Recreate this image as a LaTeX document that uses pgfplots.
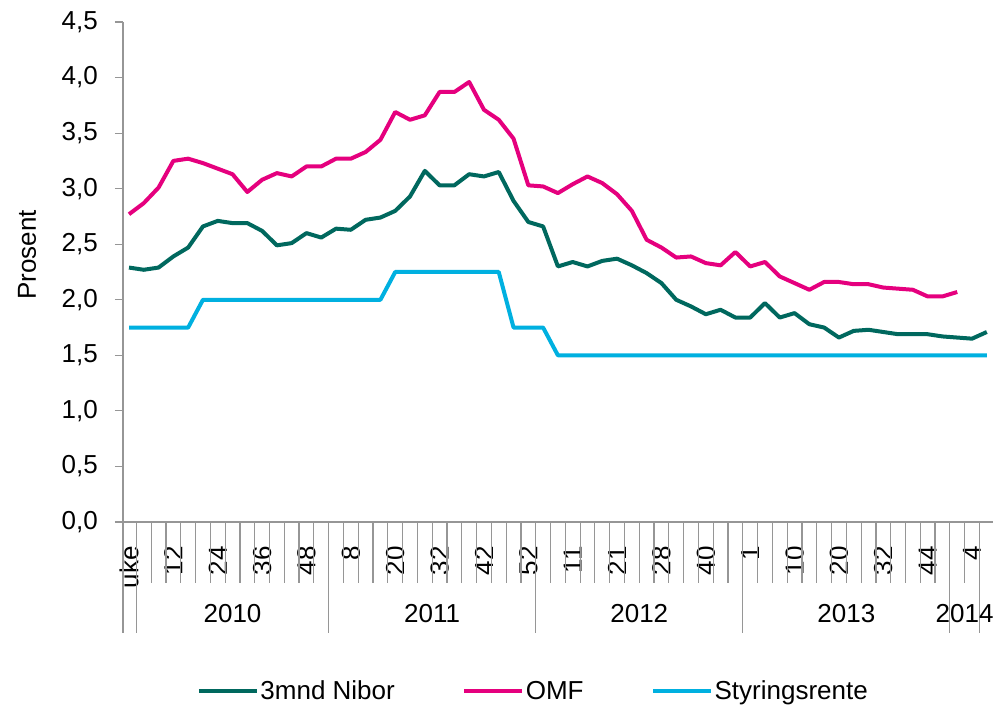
\documentclass[border=0pt]{standalone}
\usepackage{pgfplots}
\pgfplotsset{compat=1.18}
\usepackage{pgfplotstable}
\usepackage{fontspec}
\setmainfont{Liberation Sans}
\definecolor{nibor}{RGB}{0,104,94}
\definecolor{omf}{RGB}{229,0,126}
\definecolor{styr}{RGB}{0,176,224}
\definecolor{axgray}{RGB}{150,150,150}
\newcommand\fz{\fontsize{26}{31}\selectfont}

\pgfplotstableread{
i v
0 2.29
1 2.27
2 2.29
3 2.39
4 2.47
5 2.66
6 2.71
7 2.69
8 2.69
9 2.62
10 2.49
11 2.51
12 2.60
13 2.56
14 2.64
15 2.63
16 2.72
17 2.74
18 2.80
19 2.93
20 3.16
21 3.03
22 3.03
23 3.13
24 3.11
25 3.15
26 2.89
27 2.70
28 2.66
29 2.30
30 2.34
31 2.30
32 2.35
33 2.37
34 2.31
35 2.24
36 2.15
37 2.00
38 1.94
39 1.87
40 1.91
41 1.84
42 1.84
43 1.97
44 1.84
45 1.88
46 1.78
47 1.75
48 1.66
49 1.72
50 1.73
51 1.71
52 1.69
53 1.69
54 1.69
55 1.67
56 1.66
57 1.65
58 1.71
}\nibortable

\pgfplotstableread{
i v
0 2.77
1 2.87
2 3.01
3 3.25
4 3.27
5 3.23
6 3.18
7 3.13
8 2.97
9 3.08
10 3.14
11 3.11
12 3.20
13 3.20
14 3.27
15 3.27
16 3.33
17 3.44
18 3.69
19 3.62
20 3.66
21 3.87
22 3.87
23 3.96
24 3.71
25 3.62
26 3.45
27 3.03
28 3.02
29 2.96
30 3.04
31 3.11
32 3.05
33 2.95
34 2.80
35 2.54
36 2.47
37 2.38
38 2.39
39 2.33
40 2.31
41 2.43
42 2.30
43 2.34
44 2.21
45 2.15
46 2.09
47 2.16
48 2.16
49 2.14
50 2.14
51 2.11
52 2.10
53 2.09
54 2.03
55 2.03
56 2.07
}\omftable

\pgfplotstableread{
i v
0 1.75
1 1.75
2 1.75
3 1.75
4 1.75
5 2.00
6 2.00
7 2.00
8 2.00
9 2.00
10 2.00
11 2.00
12 2.00
13 2.00
14 2.00
15 2.00
16 2.00
17 2.00
18 2.25
19 2.25
20 2.25
21 2.25
22 2.25
23 2.25
24 2.25
25 2.25
26 1.75
27 1.75
28 1.75
29 1.50
30 1.50
31 1.50
32 1.50
33 1.50
34 1.50
35 1.50
36 1.50
37 1.50
38 1.50
39 1.50
40 1.50
41 1.50
42 1.50
43 1.50
44 1.50
45 1.50
46 1.50
47 1.50
48 1.50
49 1.50
50 1.50
51 1.50
52 1.50
53 1.50
54 1.50
55 1.50
56 1.50
57 1.50
58 1.50
}\styrtable

\begin{document}
\begin{tikzpicture}
\begin{axis}[
  scale only axis,
  width=870pt, height=500pt,
  xmin=-0.406, xmax=58.418,
  ymin=0, ymax=4.5,
  axis x line=bottom, axis y line=left,
  axis line style={axgray, line width=1.2pt, -},
  clip=false,
  xtick={0,3,6,9,12,15,18,21,24,27,30,33,36,39,42,45,48,51,54,57},
  xticklabels={uke,12,24,36,48,8,20,32,42,52,11,21,28,40,1,10,20,32,44,4},
  xtick style={draw=none},
  xticklabel style={rotate=90, anchor=east, inner sep=0pt, font=\fz},
  xticklabel shift=16pt,
  ytick={0,0.5,1,1.5,2,2.5,3,3.5,4,4.5},
  ytick style={axgray, line width=1.2pt},
  tick align=outside,
  major tick length=8pt,
  yticklabel style={anchor=east, inner sep=0pt, font=\fz,
    /pgf/number format/.cd, use comma, fixed, fixed zerofill, precision=1, assume math mode=true},
  yticklabel shift=17pt,
  ylabel={Prosent},
  every axis y label/.style={at={(axis description cs:-0.1103,0.534)}, rotate=90, anchor=center, font=\fz},
  legend columns=3,
  legend style={at={(axis description cs:0.085,-0.338)}, anchor=west, draw=none, fill=none,
    font=\fz, inner sep=0pt, outer sep=0pt, nodes={inner sep=1.5pt},
    /tikz/every even column/.append style={column sep=66pt}},
  legend image code/.code={\draw[#1, line width=4pt] (0pt,0pt) -- (58pt,0pt);},
]
\addplot[nibor, line width=4pt, line join=round] table[x=i,y=v] {\nibortable};
\addlegendentry{3mnd Nibor}
\addplot[omf, line width=4pt, line join=round] table[x=i,y=v] {\omftable};
\addlegendentry{OMF}
\addplot[styr, line width=4pt, line join=round] table[x=i,y=v] {\styrtable};
\addlegendentry{Styringsrente}
\pgfplotsinvokeforeach{0.5,1.5,...,57.5}{\draw[axgray, line width=1.2pt] (axis cs:#1,0) -- ([yshift=-61pt]axis cs:#1,0);}
\pgfplotsinvokeforeach{-0.406,0.5,13.5,27.5,41.5,55.5,57.5}{\draw[axgray, line width=1.2pt] (axis cs:#1,0) -- ([yshift=-111pt]axis cs:#1,0);}
\node[font=\fz, yshift=-92pt] at (axis cs:7,0) {2010};
\node[font=\fz, yshift=-92pt] at (axis cs:20.5,0) {2011};
\node[font=\fz, yshift=-92pt] at (axis cs:34.5,0) {2012};
\node[font=\fz, yshift=-92pt] at (axis cs:48.5,0) {2013};
\node[font=\fz, yshift=-92pt] at (axis cs:56.5,0) {2014};
\end{axis}
\pgfresetboundingbox
\path[use as bounding box] ([shift={(-123pt,-184pt)}]current axis.south west) rectangle ([shift={(0pt,22pt)}]current axis.north east);
\end{tikzpicture}
\end{document}
